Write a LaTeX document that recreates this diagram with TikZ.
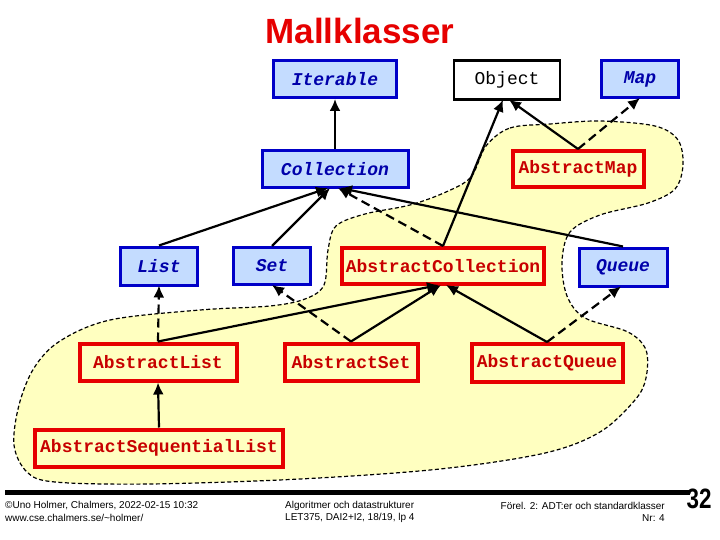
\documentclass[tikz,border=0pt]{standalone}
\usepackage{fontspec}
\setmainfont{Liberation Sans}
\setmonofont{Liberation Mono}
\usetikzlibrary{arrows.meta}
\definecolor{ifill}{RGB}{196,220,255}
\definecolor{iborder}{RGB}{0,0,200}
\definecolor{itext}{RGB}{0,0,170}
\definecolor{afill}{RGB}{255,255,192}
\definecolor{aborder}{RGB}{230,0,0}
\definecolor{atext}{RGB}{200,0,0}
\definecolor{titlered}{RGB}{230,0,0}
\tikzset{
  boxfont/.style={font=\ttfamily\fontsize{18}{20}\selectfont},
  iface/.style={font=\ttfamily\bfseries\itshape\fontsize{18}{20}\selectfont, draw=iborder, fill=ifill, text=itext, line width=3pt, inner sep=0pt},
  aclass/.style={font=\ttfamily\bfseries\fontsize{18}{20}\selectfont, draw=aborder, fill=afill, text=atext, line width=4pt, inner sep=0pt},
  objbox/.style={boxfont, draw=black, fill=white, text=black, line width=2.5pt, inner sep=0pt},
  inh/.style={line width=2.2pt, -{Latex[length=12pt,width=11pt]}},
  impl/.style={inh, dash pattern=on 9pt off 5pt},
  blob/.style={draw=black, fill=afill, line width=1.2pt, dash pattern=on 4pt off 2.5pt},
  foot/.style={font=\fontsize{10}{12}\selectfont, inner sep=0pt}
}
\begin{document}
\begin{tikzpicture}[x=1pt,y=-1pt]
\useasboundingbox (0,0) rectangle (720,540);
% background blob
\path[blob] plot[smooth cycle, tension=0.55] coordinates {
 (486,146) (510,128) (550,124) (600,121) (655,126) (678,140) (683,165)
 (675,189) (648,203) (600,215) (570,232) (562,262) (567,296) (585,318)
 (628,332) (646,350) (646,378) (635,400) (600,432) (545,453) (440,469)
 (300,479) (150,484) (55,482) (27,472) (14,445) (19,405) (34,368)
 (60,341) (110,320) (200,310) (270,306) (305,299) (324,285) (328,250)
 (336,226) (365,214) (410,205) (446,192) (471,177)};
% nodes
\node[iface, minimum width=123pt, minimum height=37pt] (Iterable) at (335,79) {Iterable};
\node[objbox, minimum width=106pt, minimum height=39pt] (Object) at (507,80) {Object};
\node[iface, minimum width=77pt, minimum height=37pt] (Map) at (640,79) {Map};
\node[iface, minimum width=146pt, minimum height=37pt] (Collection) at (335,169) {Collection};
\node[aclass, minimum width=131pt, minimum height=36pt] (AbstractMap) at (578,169) {AbstractMap};
\node[iface, minimum width=77pt, minimum height=38pt] (List) at (159,266) {List};
\node[iface, minimum width=77pt, minimum height=37pt] (Set) at (272,266) {Set};
\node[aclass, minimum width=202pt, minimum height=36pt] (AbstractCollection) at (443,266) {AbstractCollection};
\node[iface, minimum width=88pt, minimum height=38pt] (Queue) at (623,267) {Queue};
\node[aclass, minimum width=157pt, minimum height=37pt] (AbstractList) at (158,362) {AbstractList};
\node[aclass, minimum width=133pt, minimum height=37pt] (AbstractSet) at (351,362) {AbstractSet};
\node[aclass, minimum width=151pt, minimum height=38pt] (AbstractQueue) at (547,363) {AbstractQueue};
\node[aclass, minimum width=248pt, minimum height=37pt] (AbstractSequentialList) at (159,448) {AbstractSequentialList};
% connectors
\draw[inh] (Collection.north) -- (Iterable.south);
\draw[inh] (List.north) -- ([xshift=-7pt,yshift=1pt]Collection.south);
\draw[inh] (Set.north) -- ([xshift=-5pt,yshift=1pt]Collection.south);
\draw[impl] (AbstractCollection.north) -- ([xshift=3pt,yshift=1pt]Collection.south);
\draw[inh] (Queue.north) -- ([xshift=5pt,yshift=1pt]Collection.south);
\draw[inh] (AbstractCollection.north) -- ([xshift=-4pt,yshift=1pt]Object.south);
\draw[inh] (AbstractMap.north) -- ([xshift=2pt,yshift=1pt]Object.south);
\draw[impl] (AbstractMap.north) -- ([yshift=1pt]Map.south);
\draw[impl] (AbstractList.north) -- ([yshift=1pt]List.south);
\draw[inh] (AbstractList.north) -- ([xshift=-4pt,yshift=1pt]AbstractCollection.south);
\draw[impl] (AbstractSet.north) -- ([yshift=1pt]Set.south);
\draw[inh] (AbstractSet.north) -- ([xshift=-2pt,yshift=1pt]AbstractCollection.south);
\draw[inh] (AbstractQueue.north) -- ([xshift=3pt,yshift=1pt]AbstractCollection.south);
\draw[impl] (AbstractQueue.north) -- ([xshift=-2pt,yshift=1pt]Queue.south);
\draw[inh] (AbstractSequentialList.north) -- (AbstractList.south);
% title
\node[font=\bfseries\fontsize{35}{40}\selectfont, text=titlered] (title) at (360,31) {Mallklasser};
% footer
\draw[line width=5pt] (5,492) -- (690,492);
\node[font=\bfseries\fontsize{28}{30}\selectfont, inner sep=0pt] (pagenum) at (699,499) {\scalebox{0.8}[1]{32}};
\node[foot, anchor=west] (f1) at (5,506) {©Uno Holmer, Chalmers, 2022-02-15 10:32};
\node[foot, anchor=west] (f2) at (5,518) {www.cse.chalmers.se/\textasciitilde holmer/};
\node[foot, anchor=west] (f3) at (285,506) {Algoritmer och datastrukturer};
\node[foot, anchor=west] (f4) at (285,518) {LET375, DAI2+I2, 18/19, lp 4};
\node[foot, anchor=east] (f5) at (665,506) {Förel. 2: ADT:er och standardklasser};
\node[foot, anchor=east] (f6) at (665,518) {Nr: 4};
\end{tikzpicture}
\end{document}
